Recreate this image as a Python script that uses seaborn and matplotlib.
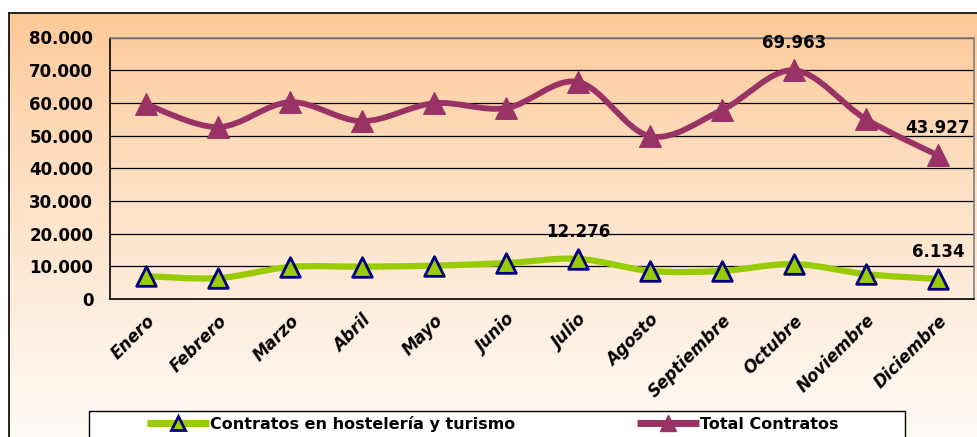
import numpy as np
import matplotlib
matplotlib.use("Agg")
import matplotlib.pyplot as plt
import seaborn as sns
import pandas as pd
from matplotlib.path import Path
from matplotlib.patches import PathPatch, Rectangle
from matplotlib.lines import Line2D
from matplotlib.ticker import FuncFormatter

# Data
meses = ['Enero', 'Febrero', 'Marzo', 'Abril', 'Mayo', 'Junio', 'Julio',
         'Agosto', 'Septiembre', 'Octubre', 'Noviembre', 'Diciembre']
hosteleria = [7000, 6400, 9800, 9900, 10200, 11000, 12276,
              8600, 8600, 10700, 7600, 6134]
total = [59600, 52600, 60200, 54400, 59900, 58400, 66400,
         49800, 57800, 69963, 55000, 43927]

# Point labels shown in the reference (index, series)
labels_total = [9, 11]
labels_host = [6, 11]

GREEN = '#99CC00'
PLUM = '#993366'
NAVY = '#000080'

sns.set_style("white")
plt.rcParams['font.family'] = ['DejaVu Sans']
plt.rcParams['text.color'] = 'black'
plt.rcParams['xtick.color'] = 'black'
plt.rcParams['ytick.color'] = 'black'


def smooth_path(xs, ys, tension=1 / 6):
    """Bezier path through the data points (Excel-style smoothed line)."""
    pts = np.column_stack([xs, ys]).astype(float)
    verts = [pts[0]]
    codes = [Path.MOVETO]
    n = len(pts)
    for i in range(n - 1):
        p0 = pts[i - 1] if i > 0 else pts[i]
        p1 = pts[i]
        p2 = pts[i + 1]
        p3 = pts[i + 2] if i + 2 < n else pts[i + 1]
        c1 = p1 + (p2 - p0) * tension
        c2 = p2 - (p3 - p1) * tension
        verts += [c1, c2, p2]
        codes += [Path.CURVE4] * 3
    return Path(verts, codes)


fig = plt.figure(figsize=(9.78, 4.37), dpi=100)

# chart-area gradient background with border
bg = fig.add_axes([9 / 978, -0.05, 1.0, 1 - 13 / 437 + 0.05])
grad = np.linspace(0, 1, 256).reshape(-1, 1)
top_c = np.array(matplotlib.colors.to_rgb('#FDC896'))
bot_c = np.array(matplotlib.colors.to_rgb('#FFFDFB'))
g = grad[..., None] ** 0.85
img = top_c[None, None, :] * (1 - g) + bot_c[None, None, :] * g
bg.imshow(img, aspect='auto', extent=[0, 1, 0, 1])
bg.set_xlim(0, 1)
bg.set_ylim(0, 1)
bg.set_xticks([])
bg.set_yticks([])
for s in ['right', 'bottom']:
    bg.spines[s].set_visible(False)
for s in ['left', 'top']:
    bg.spines[s].set_color('black')
    bg.spines[s].set_linewidth(1.2)
bg.set_zorder(0)

ax = fig.add_axes([110 / 978, 138 / 437, 864 / 978, 261.5 / 437])
ax.set_zorder(1)
ax.patch.set_alpha(0)

x = np.arange(len(meses))
df = pd.DataFrame({'mes': x, 'hosteleria': hosteleria, 'total': total})

ax.add_patch(PathPatch(smooth_path(x, total), fill=False, edgecolor=PLUM,
                       lw=4.2, capstyle='round', joinstyle='round', zorder=3))
ax.add_patch(PathPatch(smooth_path(x, hosteleria), fill=False, edgecolor=GREEN,
                       lw=4.5, capstyle='round', joinstyle='round', zorder=3))

sns.scatterplot(data=df, x='mes', y='total', marker='^', s=240, color=PLUM,
                edgecolor=PLUM, linewidth=1, ax=ax, zorder=4)
sns.scatterplot(data=df, x='mes', y='hosteleria', marker='^', s=200, color=GREEN,
                edgecolor=NAVY, linewidth=2, ax=ax, zorder=4)

fmt = lambda v: f"{v:,.0f}".replace(',', '.')
for i in labels_total:
    ax.annotate(fmt(total[i]), (x[i], total[i]), xytext=(0, 13),
                textcoords='offset points', ha='center', va='bottom',
                fontsize=12, fontweight='bold', color='black')
for i in labels_host:
    ax.annotate(fmt(hosteleria[i]), (x[i], hosteleria[i]), xytext=(0, 13),
                textcoords='offset points', ha='center', va='bottom',
                fontsize=12, fontweight='bold', color='black')

ax.set_xlim(-0.5, len(meses) - 0.5)
ax.set_ylim(0, 80000)
ax.set_yticks(np.arange(0, 80001, 10000))
ax.yaxis.set_major_formatter(FuncFormatter(lambda v, p: fmt(v)))
ax.grid(axis='y', color='black', lw=0.9)
ax.set_axisbelow(True)
ax.set_xlabel('')
ax.set_ylabel('')

# category labels at centres, tick marks between categories
ax.set_xticks(np.arange(-0.5, len(meses), 1.0))
ax.set_xticklabels([])
ax.set_xticks(x, minor=True)
ax.set_xticklabels(meses, minor=True, rotation=45, ha='right',
                   rotation_mode='anchor', fontsize=12, fontweight='bold',
                   fontstyle='italic', color='black')
ax.tick_params(axis='x', which='minor', length=0, pad=9)
ax.tick_params(axis='x', which='major', length=6, width=1, color='black', direction='out')
ax.tick_params(axis='y', length=6, width=1, color='black', direction='out', pad=6,
               labelcolor='black')
for lab in ax.get_yticklabels():
    lab.set_fontweight('bold')
    lab.set_fontsize(12)

ax.spines['left'].set_color('black')
ax.spines['bottom'].set_color('black')
ax.spines['top'].set_color('#808080')
ax.spines['right'].set_color('#808080')
for s in ax.spines.values():
    s.set_linewidth(1.2)

# legend box (extends past the bottom edge, as in the reference)
fig.patches.append(Rectangle((89 / 978, -0.05), 816 / 978, 26 / 437 + 0.05,
                             transform=fig.transFigure, facecolor='white',
                             edgecolor='black', lw=1, zorder=2))
handles = [
    Line2D([], [], color=GREEN, lw=5, marker='^', markersize=10,
           markerfacecolor=GREEN, markeredgecolor=NAVY, markeredgewidth=2,
           solid_capstyle='butt'),
    Line2D([], [], color=PLUM, lw=5, marker='^', markersize=11,
           markerfacecolor=PLUM, markeredgecolor=PLUM, solid_capstyle='butt'),
]
leg = fig.legend(handles, ['Contratos en hostelería y turismo', 'Total Contratos'],
                 loc='center left', bbox_to_anchor=(147 / 978, 13 / 437),
                 ncol=2, frameon=False, handlelength=3.9, handletextpad=0.05,
                 columnspacing=7.6, prop={'weight': 'bold', 'size': 11.5},
                 borderpad=0, borderaxespad=0)
leg.set_zorder(3)

fig.savefig('out.png', dpi=100)
